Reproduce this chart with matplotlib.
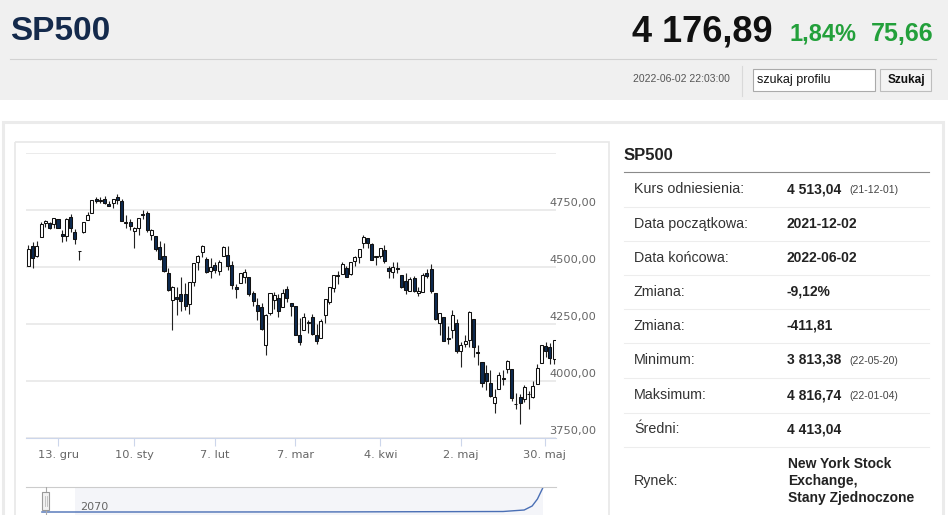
import matplotlib.pyplot as plt
import numpy as np
import pandas as pd
from matplotlib.patches import Rectangle

W, H = 948, 515

# trading days shown (source has no 2021-12-21 candle)
skipped = ['2021-12-24', '2021-12-21', '2022-01-17', '2022-02-21', '2022-04-15', '2022-05-30']
days = pd.bdate_range('2021-12-02', '2022-06-02')
days = days[~days.isin(pd.to_datetime(skipped))]

opens = [
    4504.73, 4589.49, 4548.37, 4631.97, 4690.86, 4691.00, 4687.64, 4710.30, 4642.99, 4636.46,
    4719.13, 4652.50, 4567.00, 4650.36, 4703.96, 4733.99, 4795.49, 4788.64, 4794.23, 4775.21,
    4778.14, 4804.51, 4787.99, 4693.39, 4697.66, 4655.34, 4669.14, 4728.59, 4733.56, 4637.99,
    4632.24, 4588.03, 4547.35, 4471.38, 4356.32, 4366.64, 4380.58, 4380.50, 4336.19, 4431.79,
    4519.57, 4566.39, 4535.41, 4482.79, 4505.75, 4480.02, 4547.00, 4553.24, 4506.27, 4412.61,
    4429.28, 4455.75, 4456.06, 4384.57, 4332.74, 4324.93, 4155.77, 4298.38, 4354.17,
    4363.14, 4322.56, 4401.31, 4342.12, 4327.01, 4202.66, 4223.10, 4252.55, 4279.50, 4202.75,
    4188.82, 4288.14, 4345.11, 4407.34, 4462.40, 4469.10, 4493.10, 4469.98, 4522.91, 4541.09,
    4602.86, 4624.20, 4599.02,
    4540.32, 4547.97, 4572.45, 4494.17, 4474.65, 4494.15, 4462.64, 4437.59, 4394.30, 4449.12,
    4385.63, 4390.63, 4472.26, 4489.17, 4385.83, 4255.34, 4278.14, 4186.52, 4222.58, 4253.75,
    4130.61, 4159.78, 4181.18, 4270.43, 4128.17, 4081.27, 4035.18, 3990.08, 3903.95, 3963.90,
    4013.02, 4052.00, 4051.98, 3899.00, 3927.76, 3919.42, 3942.94, 3929.59, 3984.60, 4077.43,
    4151.09, 4149.78, 4095.41]
highs = [
    4595.46, 4608.03, 4612.60, 4694.04, 4705.06, 4695.26, 4713.57, 4710.30, 4660.47, 4712.60,
    4731.99, 4666.70, 4568.50, 4697.67, 4740.74, 4791.49, 4807.02, 4804.06, 4808.93, 4786.83,
    4796.64, 4816.74, 4797.70, 4725.01, 4707.95, 4673.02, 4714.13, 4748.83, 4744.13, 4665.13,
    4632.24, 4611.55, 4602.11, 4494.52, 4417.35, 4411.01, 4453.23, 4428.74, 4432.72, 4516.89,
    4550.49, 4595.31, 4542.88, 4539.66, 4521.86, 4531.32, 4590.03, 4588.92, 4526.33, 4426.22,
    4472.77, 4489.55, 4456.06, 4394.60, 4362.12, 4341.51, 4294.73, 4385.34, 4388.84,
    4378.45, 4401.48, 4416.78, 4342.12, 4327.01, 4276.94, 4299.40, 4268.28, 4291.01, 4247.57,
    4271.05, 4358.90, 4412.67, 4465.40, 4481.75, 4522.00, 4501.07, 4520.58, 4546.03, 4575.65,
    4637.30, 4627.77, 4603.07,
    4548.70, 4583.50, 4593.45, 4503.94, 4521.16, 4520.41, 4464.35, 4471.00, 4453.92, 4460.46,
    4410.31, 4471.03, 4488.29, 4512.94, 4385.83, 4299.02, 4278.14, 4240.71, 4308.45, 4269.68,
    4169.81, 4200.10, 4307.66, 4270.43, 4157.69, 4081.27, 4068.82, 4049.09, 3964.80, 4038.88,
    4046.46, 4090.72, 4051.98, 3945.96, 3943.42, 3981.88, 3955.68, 3999.33, 4075.14, 4158.49,
    4168.34, 4166.54, 4177.51]
lows = [
    4504.73, 4495.12, 4540.51, 4631.97, 4674.52, 4665.98, 4670.24, 4667.60, 4606.52, 4611.22,
    4651.89, 4600.22, 4531.10, 4645.53, 4703.96, 4733.99, 4780.04, 4778.08, 4775.33, 4765.75,
    4758.17, 4774.27, 4699.44, 4671.26, 4662.74, 4582.24, 4638.27, 4706.71, 4650.29, 4614.75,
    4568.70, 4530.20, 4477.95, 4395.34, 4222.62, 4287.11, 4304.80, 4309.50, 4292.46, 4414.02,
    4483.53, 4544.32, 4470.39, 4451.50, 4471.47, 4465.40, 4547.00, 4484.31, 4401.41, 4364.84,
    4429.28, 4429.68, 4373.81, 4327.22, 4267.11, 4221.51, 4114.65, 4286.83, 4315.12,
    4279.54, 4322.56, 4345.56, 4284.98, 4199.85, 4157.87, 4223.10, 4209.80, 4200.49, 4161.72,
    4187.90, 4251.99, 4335.65, 4390.57, 4424.30, 4469.10, 4455.81, 4465.17, 4501.07, 4517.69,
    4581.18, 4581.32, 4530.41,
    4507.57, 4539.21, 4514.17, 4450.04, 4450.30, 4474.60, 4408.38, 4381.34, 4392.70, 4390.77,
    4370.30, 4390.63, 4448.76, 4384.47, 4267.62, 4200.82, 4175.04, 4162.90, 4188.63, 4124.28,
    4062.51, 4147.08, 4148.91, 4106.01, 4067.91, 3975.48, 3958.17, 3928.82, 3858.87, 3963.90,
    3983.99, 4033.93, 3911.91, 3876.58, 3813.38, 3909.04, 3875.13, 3925.03, 3984.60, 4077.43,
    4104.88, 4073.85, 4074.37]
closes = [
    4577.10, 4538.43, 4591.67, 4686.75, 4701.21, 4667.45, 4712.02, 4668.97, 4634.09, 4709.85,
    4668.67, 4620.64, 4568.02, 4696.56, 4725.79, 4791.19, 4786.35, 4793.06, 4778.73, 4766.18,
    4796.56, 4793.54, 4700.58, 4696.05, 4677.03, 4670.29, 4713.07, 4726.35, 4659.03, 4662.85,
    4577.11, 4532.76, 4482.73, 4397.94, 4410.13, 4356.45, 4349.93, 4326.51, 4431.85, 4515.55,
    4546.54, 4589.38, 4477.44, 4500.53, 4483.87, 4521.54, 4587.18, 4504.08, 4418.64, 4401.67,
    4471.07, 4475.01, 4380.26, 4348.87, 4304.76, 4225.50, 4288.70, 4384.65, 4373.94,
    4306.26, 4386.54, 4363.49, 4328.87, 4201.09, 4170.70, 4277.88, 4259.52, 4204.31, 4173.11,
    4262.45, 4357.86, 4411.67, 4463.12, 4461.18, 4511.61, 4456.24, 4520.16, 4543.06, 4575.52,
    4631.60, 4602.45, 4530.41,
    4545.86, 4582.64, 4525.12, 4481.15, 4500.21, 4488.28, 4412.53, 4397.45, 4446.59, 4392.59,
    4391.69, 4462.21, 4459.45, 4393.66, 4271.78, 4296.12, 4175.20, 4183.96, 4287.50, 4131.93,
    4155.38, 4175.48, 4300.17, 4146.87, 4123.34, 3991.24, 4001.05, 3935.18, 3930.08, 4023.89,
    4008.01, 4088.85, 3923.68, 3900.79, 3901.36, 3973.75, 3941.48, 3978.73, 4057.84, 4158.24,
    4132.15, 4101.23, 4176.89]

tick_dates = ['2021-12-13', '2022-01-10', '2022-02-07', '2022-03-07', '2022-04-04', '2022-05-02', '2022-05-30']
tick_labels = ['13. gru', '10. sty', '7. lut', '7. mar', '4. kwi', '2. maj', '30. maj']
price_ticks = [3750, 4000, 4250, 4500, 4750, 5000]

# navigator (whole history, squeezed)
nav_pos = [0.03, 0.30, 0.60, 0.90, 0.94, 0.955, 0.965, 0.975]
nav_val = [0, 0, 0.1, 0.5, 2, 6, 13, 24]

table_labels = ['Kurs odniesienia:', 'Data początkowa:', 'Data końcowa:', 'Zmiana:', 'Zmiana:',
                'Minimum:', 'Maksimum:', 'Średni:', 'Rynek:']
table_values = ['4 513,04', '2021-12-02', '2022-06-02', '-9,12%', '-411,81',
                '3 813,38', '4 816,74', '4 413,04', ['New York Stock', 'Exchange,', 'Stany Zjednoczone']]
table_notes = ['(21-12-01)', '', '', '', '', '(22-05-20)', '(22-01-04)', '', '']


def box(x0, y0, x1, y1):
    return [x0 / W, 1 - y1 / H, (x1 - x0) / W, (y1 - y0) / H]


fig = plt.figure(figsize=(W / 100, H / 100), dpi=100)
fig.patch.set_facecolor('white')

# page background / panels in pixel coordinates
bg = fig.add_axes([0, 0, 1, 1], zorder=0)
bg.set_xlim(0, W)
bg.set_ylim(H, 0)
bg.axis('off')
bg.add_patch(Rectangle((0, 0), W, 100, fc='#f0f0f0', ec='none'))
bg.plot([10, 936], [58.5, 58.5], color='#d2d2d2', lw=0.8)
bg.add_patch(Rectangle((3.5, 122), 940, 420, fc='white', ec='#ebebeb', lw=2.2))
bg.add_patch(Rectangle((15.5, 141.5), 594, 420, fc='none', ec='#e8e8e8', lw=1.2))

hfont = 'Liberation Sans'
bg.text(10, 31, 'SP500', fontsize=24, fontweight='bold', color='#142a4c',
        family=hfont, va='center', ha='left')
bg.text(773, 32, '4 176,89', fontsize=26, fontweight='bold', color='#111111',
        family=hfont, va='center', ha='right')
bg.text(857, 34, '1,84%', fontsize=17, fontweight='bold', color='#23a03b',
        family=hfont, va='center', ha='right')
bg.text(934, 34, '75,66', fontsize=18, fontweight='bold', color='#23a03b',
        family=hfont, va='center', ha='right')

bg.text(730, 79.5, '2022-06-02 22:03:00', fontsize=7.5, color='#555555',
        family=hfont, va='center', ha='right')
bg.plot([742.5, 742.5], [66, 96], color='#d9d9d9', lw=0.8)
bg.add_patch(Rectangle((753.5, 68.5), 122, 22, fc='white', ec='#aaaaaa', lw=0.8))
bg.text(757, 79.5, 'szukaj profilu', fontsize=9, color='#111111',
        family=hfont, va='center', ha='left')
bg.add_patch(Rectangle((880.5, 68.5), 51, 22, fc='#f4f4f4', ec='#bdbdbd', lw=0.8))
bg.text(906, 79.5, 'Szukaj', fontsize=8.5, fontweight='bold', color='#111111',
        family=hfont, va='center', ha='center')

# info table
bg.text(624, 155, 'SP500', fontsize=12, fontweight='bold', color='#222222',
        family=hfont, va='center', ha='left')
bg.plot([624, 929], [171.5, 171.5], color='#8a8a8a', lw=0.8)
row_y = [189, 224, 258, 292, 326, 360, 395, 429, 481]
for y in [207, 241, 275, 309, 343, 378, 413, 447]:
    bg.plot([624, 929], [y, y], color='#ededed', lw=0.8)
for lab, val, note, y in zip(table_labels, table_values, table_notes, row_y):
    bg.text(634, y, lab, fontsize=10.3, color='#333333', family=hfont, va='center', ha='left')
    if isinstance(val, list):
        for k, line in enumerate(val):
            bg.text(788, y - 17 + 17 * k, line, fontsize=10, fontweight='bold', color='#222222',
                    family=hfont, va='center', ha='left')
    else:
        bg.text(787, y, val, fontsize=10, fontweight='bold', color='#222222',
                family=hfont, va='center', ha='left')
    if note:
        bg.text(849, y + 1, note, fontsize=7.5, color='#444444', family=hfont,
                va='center', ha='left')

# candlestick chart
o = np.array(opens)
h = np.array(highs)
l = np.array(lows)
c = np.array(closes)
idx = np.arange(len(days))
up = c >= o

ax = fig.add_axes(box(26, 152.5, 556, 438), zorder=2)
ax.set_facecolor('none')
ax.vlines(idx, l, h, color='#222222', lw=0.8, zorder=2)
ax.bar(idx[up], (c - o)[up], bottom=o[up], width=0.72, color='white',
       edgecolor='#111111', linewidth=0.75, zorder=3)
ax.bar(idx[~up], (o - c)[~up], bottom=c[~up], width=0.72, color='#0d2a50',
       edgecolor='#111111', linewidth=0.75, zorder=3)

ax.set_xlim(-0.55, len(days) - 0.55)
ax.set_ylim(3750, 5000)
ax.set_yticks(price_ticks)
ax.yaxis.grid(True, color='#e6e6e6', lw=1.1)
ax.set_axisbelow(True)
ax.tick_params(axis='y', length=0, labelleft=False)
for p in price_ticks[:-1]:
    ax.annotate(f'{p:.2f}'.replace('.', ','), xy=(1.0755, p),
                xycoords=('axes fraction', 'data'), xytext=(0, 1.2), textcoords='offset points',
                ha='right', va='bottom', fontsize=8.2, color='#666666', annotation_clip=False)

tick_pos = np.interp(pd.to_datetime(tick_dates).asi8, days.asi8, idx)
ax.set_xticks(tick_pos, tick_labels)
ax.tick_params(axis='x', length=6, width=0.8, color='#ccd6eb', pad=2.5,
               labelsize=8.2, labelcolor='#666666')
for s in ('top', 'right', 'left'):
    ax.spines[s].set_visible(False)
ax.spines['bottom'].set_color('#ccd6eb')
ax.spines['bottom'].set_linewidth(0.8)

# navigator strip
nav = fig.add_axes(box(26, 487, 556, 515), zorder=2)
nav.set_facecolor('none')
nav.set_xlim(0, 1)
nav.set_ylim(-3, 25)
nav.axvspan(0.093, 0.975, color='#f4f5f9', lw=0, zorder=0)
nav.plot(nav_pos, nav_val, color='#4a6fb5', lw=1.0, zorder=2)
nav.axvline(0.037, color='#aaaaaa', lw=0.8, zorder=3)
nav.add_patch(Rectangle((0.030, 2), 0.014, 18, fc='#f2f2f2', ec='#999999', lw=0.8, zorder=4))
nav.plot([0.035, 0.035], [6, 16], color='#bbbbbb', lw=0.6, zorder=5)
nav.plot([0.039, 0.039], [6, 16], color='#bbbbbb', lw=0.6, zorder=5)
nav.text(0.102, 5, '2070', fontsize=8, color='#666666', va='center', ha='left')
nav.set_xticks([])
nav.set_yticks([])
for s in ('bottom', 'right', 'left'):
    nav.spines[s].set_visible(False)
nav.spines['top'].set_color('#cccccc')
nav.spines['top'].set_linewidth(0.8)

fig.savefig('out.png', dpi=100)
